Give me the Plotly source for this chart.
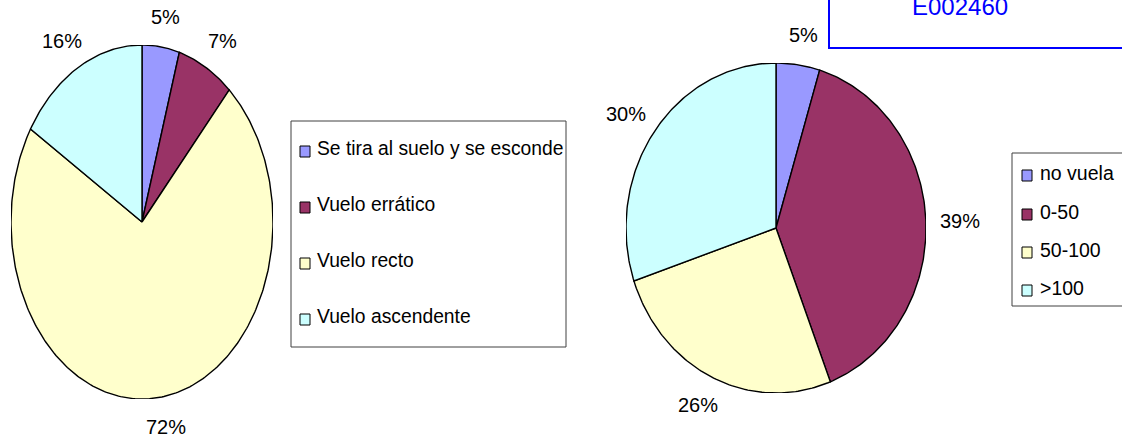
import numpy as np
import plotly.graph_objects as go

W, H = 1122, 439

# ---- data ----
left_categories = ["Se tira al suelo y se esconde", "Vuelo errático", "Vuelo recto", "Vuelo ascendente"]
left_values = [4.6, 7.0, 72.2, 16.2]
right_categories = ["no vuela", "0-50", "50-100", ">100"]
right_values = [4.7, 39.4, 25.7, 30.2]
slice_colors = ["#9999FF", "#993366", "#FFFFCC", "#CCFFFF"]
code_text = "E002460"

FONT = "Liberation Sans, Arial, sans-serif"


def px(x):
    return x / W


def py(y):
    return 1 - y / H


fig = go.Figure()
annotations = []


def add_pie(values, xa, ya, box, gap_x=34, gap_y=30):
    rx = (box["x1"] - box["x0"]) / 2
    ry = (box["y1"] - box["y0"]) / 2
    cx = (box["x1"] + box["x0"]) / 2
    cy = (box["y1"] + box["y0"]) / 2
    total = sum(values)
    start = 0.0
    for v, col in zip(values, slice_colors):
        frac = v / total
        a0, a1 = start * 2 * np.pi, (start + frac) * 2 * np.pi
        n = max(8, int(frac * 400))
        ang = np.linspace(a0, a1, n)
        xs = np.concatenate([[0], np.sin(ang), [0]])
        ys = np.concatenate([[0], np.cos(ang), [0]])
        fig.add_trace(go.Scatter(
            x=xs, y=ys, mode="lines", fill="toself", fillcolor=col,
            line=dict(color="black", width=1.4), xaxis=xa, yaxis=ya,
            hoverinfo="skip", showlegend=False))
        mid = (start + frac / 2) * 2 * np.pi
        annotations.append(dict(
            text=f"{round(v)}%", xref="paper", yref="paper",
            x=px(cx + np.sin(mid) * (rx + gap_x)),
            y=py(cy - np.cos(mid) * (ry + gap_y)),
            xanchor="center", yanchor="middle", showarrow=False,
            font=dict(family=FONT, size=20, color="black")))
        start += frac


# pie geometry (pixels)
L = dict(x0=11, x1=273, y0=45, y1=399)
R = dict(x0=626, x1=926, y0=63, y1=393)

add_pie(left_values, "x", "y", L)
add_pie(right_values, "x2", "y2", R)

axis_common = dict(visible=False, range=[-1, 1], fixedrange=True)
fig.update_layout(
    xaxis=dict(domain=[px(L["x0"]), px(L["x1"])], **axis_common),
    yaxis=dict(domain=[py(L["y1"]), py(L["y0"])], **axis_common),
    xaxis2=dict(domain=[px(R["x0"]), px(R["x1"])], anchor="y2", **axis_common),
    yaxis2=dict(domain=[py(R["y1"]), py(R["y0"])], anchor="x2", **axis_common),
)

shapes = []

# left legend
shapes.append(dict(type="rect", xref="paper", yref="paper",
                   x0=px(291), x1=px(566), y0=py(347), y1=py(121),
                   line=dict(color="#404040", width=1), fillcolor="white", layer="below"))
left_item_y = [148, 204, 260, 316]
for cat, col, yc in zip(left_categories, slice_colors, left_item_y):
    shapes.append(dict(type="rect", xref="paper", yref="paper",
                       x0=px(300), x1=px(310), y0=py(yc + 9), y1=py(yc - 2),
                       line=dict(color="black", width=1), fillcolor=col))
    annotations.append(dict(text=cat, xref="paper", yref="paper", x=px(315), y=py(yc),
                            xanchor="left", yanchor="middle", showarrow=False,
                            font=dict(family=FONT, size=19.3, color="black")))

# right legend
shapes.append(dict(type="rect", xref="paper", yref="paper",
                   x0=px(1012), x1=px(1140), y0=py(306), y1=py(153),
                   line=dict(color="#404040", width=1), fillcolor="white", layer="below"))
right_item_y = [173, 212, 250, 288]
for cat, col, yc in zip(right_categories, slice_colors, right_item_y):
    shapes.append(dict(type="rect", xref="paper", yref="paper",
                       x0=px(1022), x1=px(1032), y0=py(yc + 8), y1=py(yc - 3),
                       line=dict(color="black", width=1), fillcolor=col))
    annotations.append(dict(text=cat, xref="paper", yref="paper", x=px(1038), y=py(yc),
                            xanchor="left", yanchor="middle", showarrow=False,
                            font=dict(family=FONT, size=19.5, color="black")))

# blue code box at top right
shapes.append(dict(type="rect", xref="paper", yref="paper",
                   x0=px(829), x1=px(1140), y0=py(48), y1=py(-20),
                   line=dict(color="#0000FF", width=2), fillcolor="white", layer="below"))
annotations.append(dict(text=code_text, xref="paper", yref="paper", x=px(960), y=py(7),
                        xanchor="center", yanchor="middle", showarrow=False,
                        font=dict(family=FONT, size=24, color="#0000FF")))

fig.update_layout(
    width=W, height=H, margin=dict(l=0, r=0, t=0, b=0),
    paper_bgcolor="white", plot_bgcolor="white",
    shapes=shapes, annotations=annotations, showlegend=False,
)

fig.write_html("out.html", config={"displayModeBar": False},
               post_script="document.body.style.margin='0';document.body.style.overflow='hidden';")
